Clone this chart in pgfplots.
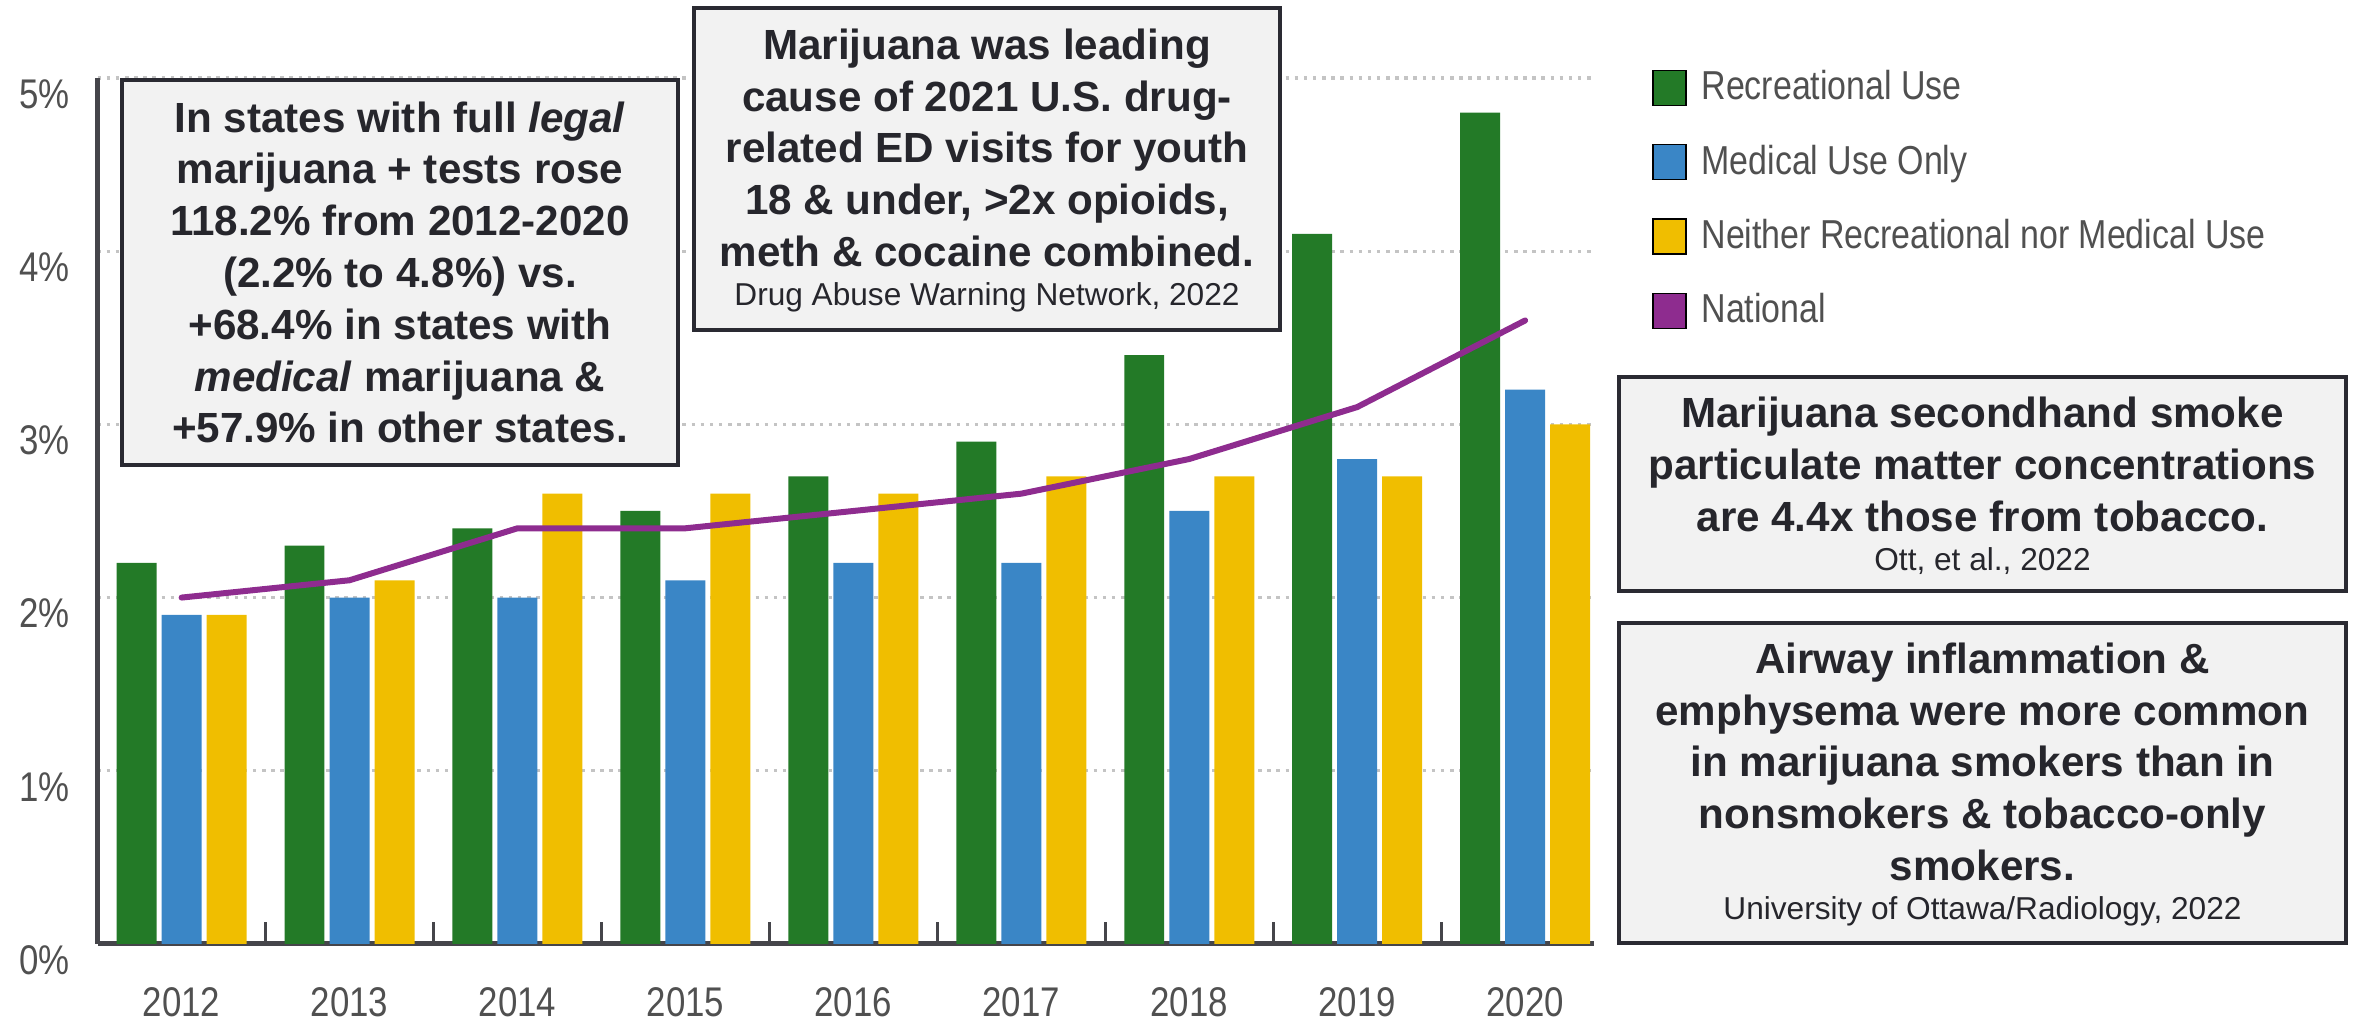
\documentclass[border=0pt]{standalone}
\usepackage{fontspec}
\setmainfont{Liberation Sans}
\newfontfamily\tickfont[FakeStretch=0.84]{Liberation Sans}
\usepackage{pgfplots}
\usepackage{pgfplotstable}
\pgfplotsset{compat=1.18}
\definecolor{recgreen}{HTML}{237A27}
\definecolor{medblue}{HTML}{3A86C6}
\definecolor{neityellow}{HTML}{F0BE00}
\definecolor{natpurple}{HTML}{8E2C8F}
\definecolor{boxfill}{HTML}{F2F2F2}
\definecolor{boxline}{HTML}{2A2A32}
\definecolor{boxtext}{HTML}{26262C}
\definecolor{axisgray}{HTML}{45454A}
\definecolor{gridgray}{HTML}{C4C4C4}
\definecolor{labelgray}{HTML}{505050}

\pgfplotstableread{
x rec med nei nat
0 2.2 1.9 1.9 2.0
1 2.3 2.0 2.1 2.1
2 2.4 2.0 2.6 2.4
3 2.5 2.1 2.6 2.4
4 2.7 2.2 2.6 2.5
5 2.9 2.2 2.7 2.6
6 3.4 2.5 2.7 2.8
7 4.1 2.8 2.7 3.1
8 4.8 3.2 3.0 3.6
}\datatable

\newcommand{\citefont}{\fontsize{9}{14.74}\selectfont\mdseries\spaceskip=0pt\xspaceskip=0pt }

\begin{document}
\begin{tikzpicture}
\begin{axis}[
  at={(0.976cm,0.76cm)}, anchor=south west,
  scale only axis, width=14.964cm, height=8.66cm,
  xmin=-0.5, xmax=8.41, ymin=0, ymax=5,
  axis x line=bottom, axis y line=left,
  axis line style={-, line width=0.05cm, color=axisgray},
  xtick={0,...,8},
  xticklabels={2012,2013,2014,2015,2016,2017,2018,2019,2020},
  ytick={0,...,5},
  yticklabels={0\%,1\%,2\%,3\%,4\%,5\%},
  minor xtick={0.5,1.5,...,7.5},
  major tick length=0pt,
  minor tick length=0.22cm,
  tick align=inside,
  major x tick style={draw=none},
  major y tick style={draw=none},
  minor x tick style={line width=0.03cm, color=axisgray},
  ymajorgrids,
  grid style={line width=0.9pt, dash pattern=on 1pt off 1.6pt, color=gridgray},
  xticklabel style={font=\tickfont\fontsize{11.8}{14}\selectfont, text=labelgray, anchor=center, yshift=-0.58cm, inner sep=0pt},
  yticklabel style={font=\tickfont\fontsize{11.8}{14}\selectfont, text=labelgray, anchor=east, inner sep=0pt, xshift=-0.27cm, yshift=-0.16cm},
  legend cell align=left,
  legend image code/.code={\fill[#1] (0cm,-0.175cm) rectangle (0.33cm,0.175cm);},
  legend style={at={(1.0388,1.0098)}, anchor=north west, draw=none, fill=none,
    inner sep=0pt, outer sep=0pt, row sep=0.38cm,
    font=\tickfont\fontsize{11.5}{13}\selectfont, text=labelgray,
    nodes={inner sep=0pt},
    /tikz/every odd column/.append style={column sep=0.15cm}},
]
\addplot[ybar, bar width=0.238, bar shift=-0.268, fill=recgreen, draw=none, forget plot] table[x=x, y=rec]{\datatable};
\addplot[ybar, bar width=0.238, bar shift=0, fill=medblue, draw=none, forget plot] table[x=x, y=med]{\datatable};
\addplot[ybar, bar width=0.238, bar shift=0.268, fill=neityellow, draw=none, forget plot] table[x=x, y=nei]{\datatable};
\addplot[natpurple, line width=0.06cm, line join=round, line cap=round, mark=none, forget plot] table[x=x, y=nat]{\datatable};
\addlegendimage{fill=recgreen}
\addlegendentry{Recreational Use}
\addlegendimage{fill=medblue}
\addlegendentry{Medical Use Only}
\addlegendimage{fill=neityellow}
\addlegendentry{Neither Recreational nor Medical Use}
\addlegendimage{fill=natpurple}
\addlegendentry{National}
\end{axis}

% Box 1
\filldraw[fill=boxfill, draw=boxline, line width=0.045cm] (1.22,5.55) rectangle (6.78,9.40);
\node[text=boxtext, align=flush center, text width=5.4cm, inner sep=0pt, font=\fontsize{12}{14.74}\selectfont\bfseries] at (4.0,7.475)
{In states with full \textit{legal}\\ marijuana + tests rose\\ 118.2\% from 2012-2020\\ (2.2\% to 4.8\%) vs.\\ +68.4\% in states with\\ \textit{medical} marijuana \&\\ +57.9\% in other states.};

% Box 2
\filldraw[fill=boxfill, draw=boxline, line width=0.045cm] (6.94,6.90) rectangle (12.80,10.12);
\node[text=boxtext, align=flush center, text width=5.7cm, inner sep=0pt, font=\fontsize{12}{14.74}\selectfont\bfseries] at (9.87,8.495)
{Marijuana was leading\\ cause of 2021 U.S. drug-\\ related ED visits for youth\\ 18 \& under, >2x opioids,\\ meth \& cocaine combined.\\[-3.6pt] {\citefont Drug Abuse Warning Network, 2022}};

% Box 3
\filldraw[fill=boxfill, draw=boxline, line width=0.045cm] (16.19,4.29) rectangle (23.46,6.43);
\node[text=boxtext, align=flush center, text width=7.1cm, inner sep=0pt, font=\fontsize{12}{14.74}\selectfont\bfseries] at (19.825,5.34)
{Marijuana secondhand smoke\\ particulate matter concentrations\\ are 4.4x those from tobacco.\\[-3.6pt] {\citefont Ott, et al., 2022}};

% Box 4
\filldraw[fill=boxfill, draw=boxline, line width=0.045cm] (16.19,0.77) rectangle (23.46,3.97);
\node[text=boxtext, align=flush center, text width=7.1cm, inner sep=0pt, font=\fontsize{12}{14.74}\selectfont\bfseries] at (19.825,2.355)
{Airway inflammation \&\\ emphysema were more common\\ in marijuana smokers than in\\ nonsmokers \& tobacco-only\\ smokers.\\[-3.6pt] {\citefont University of Ottawa/Radiology, 2022}};

\pgfresetboundingbox
\useasboundingbox (0,0) rectangle (23.54,10.2);
\end{tikzpicture}
\end{document}
